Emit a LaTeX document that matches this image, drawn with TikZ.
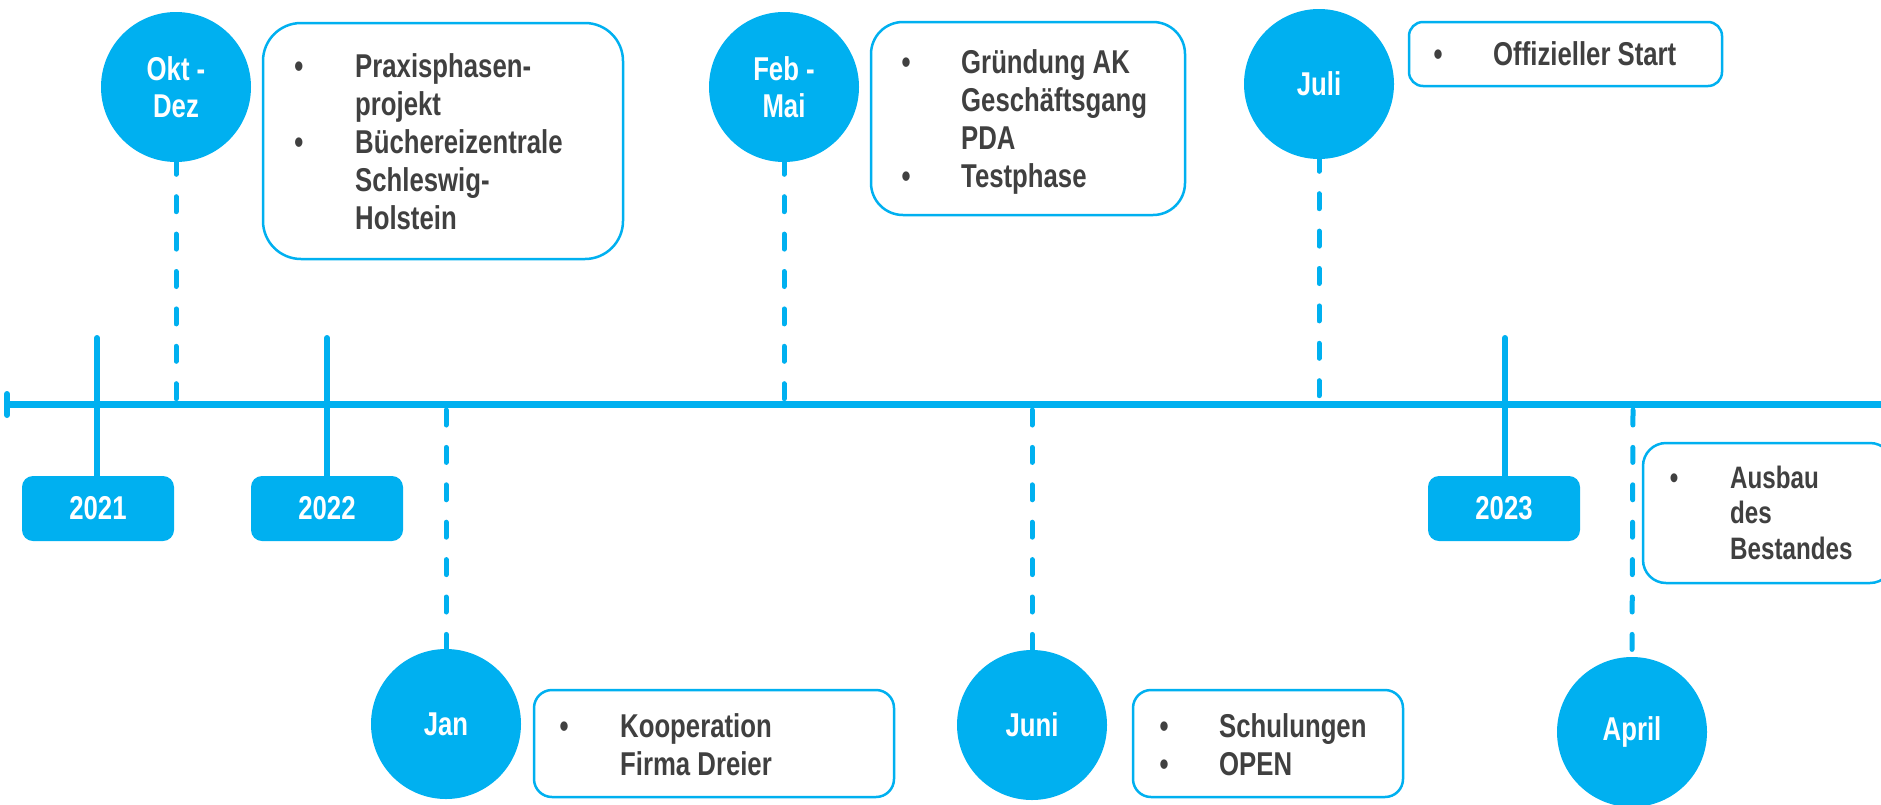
\documentclass[tikz,border=0pt]{standalone}
\usepackage{fontspec}
\newfontfamily\nb{Liberation Sans}[FakeStretch=0.78]
\definecolor{tlblue}{HTML}{00B0F0}
\definecolor{tlgray}{HTML}{404040}
\begin{document}
\begin{tikzpicture}[x=1pt,y=-1pt,
  axisline/.style={tlblue,line width=7pt},
  yeartick/.style={tlblue,line width=6pt,line cap=round},
  dashline/.style={tlblue,line width=5pt,line cap=round,dash pattern=on 15pt off 22.4pt},
  topdash/.style={dashline,dash phase=2.9pt},
  monthdot/.style={circle,fill=tlblue,minimum size=150pt,inner sep=0pt,text=white,align=center,
    font=\nb\bfseries\fontsize{33}{37}\selectfont},
  yearbox/.style={rectangle,rounded corners=11pt,fill=tlblue,minimum width=152pt,minimum height=65pt,
    inner sep=0pt,text=white,font=\nb\bfseries\fontsize{33}{38}\selectfont},
  infobox/.style={rectangle,draw=tlblue,line width=2.5pt,fill=white,inner sep=0pt},
  bul/.style={anchor=base,inner sep=0pt,text=tlgray,font=\nb\bfseries\fontsize{33}{38}\selectfont},
  itemtext/.style={anchor=base west,inner sep=0pt,text=tlgray,font=\nb\bfseries\fontsize{33}{38}\selectfont},
  smallbul/.style={bul,font=\nb\bfseries\fontsize{31}{36}\selectfont},
  smalltext/.style={itemtext,font=\nb\bfseries\fontsize{31}{36}\selectfont},
]
\useasboundingbox (0,0) rectangle (1881,804);
\fill[white] (0,0) rectangle (1881,804);

% axis
\coordinate (axL) at (7,404);
\coordinate (axR) at (1881,404);
\draw[axisline] (axL) -- (axR);
\coordinate (capT) at (7,394);
\coordinate (capB) at (7,415);
\draw[yeartick] (capT) -- (capB);

% year boxes and ticks
\node[yearbox] (y2021) at (98,508.5) {2021};
\node[yearbox] (y2022) at (327,508.5) {2022};
\node[yearbox] (y2023) at (1504,508.5) {2023};
\coordinate (t2021) at (97,338);
\coordinate (t2022) at (327,338);
\coordinate (t2023) at (1505,338);
\draw[yeartick] (t2021) -- (t2021 |- y2021.north);
\draw[yeartick] (t2022) -- (t2022 |- y2022.north);
\draw[yeartick] (t2023) -- (t2023 |- y2023.north);

% month circles
\node[monthdot] (cOkt) at (176,87) {Okt -\\Dez};
\node[monthdot] (cFeb) at (784,87) {Feb -\\Mai};
\node[monthdot] (cJuli) at (1319,84) {Juli};
\node[monthdot] (cJan) at (446,724) {Jan};
\node[monthdot] (cJuni) at (1032,725) {Juni};
\node[monthdot] (cApril) at (1632,732) {April};

% dashed connectors
\coordinate (aOkt) at (176,401);
\coordinate (aFeb) at (784,401);
\coordinate (aJuli) at (1319,401);
\coordinate (aJan) at (446,410);
\coordinate (aJuni) at (1032,410);
\coordinate (aApril) at (1633,410);
\draw[topdash] (cOkt.south) -- (aOkt);
\draw[topdash] (cFeb.south) -- (aFeb);
\draw[topdash] (cJuli.south) -- (aJuli);
\draw[dashline] (aJan) -- (cJan.north);
\draw[dashline] (aJuni) -- (cJuni.north);
\draw[dashline] (aApril) -- (cApril.north);

% info boxes
\node[infobox,rounded corners=38pt,minimum width=360pt,minimum height=236pt] (bPrax) at (443,141) {};
\node[infobox,rounded corners=32pt,minimum width=314pt,minimum height=193pt] (bGruend) at (1028,118.5) {};
\node[infobox,rounded corners=14pt,minimum width=313pt,minimum height=64pt] (bStart) at (1565.5,54) {};
\node[infobox,rounded corners=18pt,minimum width=360pt,minimum height=107pt] (bKoop) at (714,743.5) {};
\node[infobox,rounded corners=18pt,minimum width=270pt,minimum height=107pt] (bSchul) at (1268,743.5) {};
\node[infobox,rounded corners=23pt,minimum width=250pt,minimum height=140pt] (bAusbau) at (1768,513) {};

% texts: Praxis box
\node[bul] (p1b) at (299,77) {•};
\node[itemtext] (p1a) at (355,77) {Praxisphasen-};
\node[itemtext] (p1c) at (355,115) {projekt};
\node[bul] (p2b) at (299,153) {•};
\node[itemtext] (p2a) at (355,153) {Büchereizentrale};
\node[itemtext] (p2c) at (355,191) {Schleswig-};
\node[itemtext] (p2d) at (355,229) {Holstein};

% Gruendung box
\node[bul] (g1b) at (906,73) {•};
\node[itemtext] (g1a) at (961,73) {Gründung AK};
\node[itemtext] (g1c) at (961,111) {Geschäftsgang};
\node[itemtext] (g1d) at (961,149) {PDA};
\node[bul] (g2b) at (906,187) {•};
\node[itemtext] (g2a) at (961,187) {Testphase};

% Start box
\node[bul] (s1b) at (1438,65) {•};
\node[itemtext] (s1a) at (1493,65) {Offizieller Start};

% Kooperation box
\node[bul] (k1b) at (564,737) {•};
\node[itemtext] (k1a) at (620,737) {Kooperation};
\node[itemtext] (k1c) at (620,775) {Firma Dreier};

% Schulungen box
\node[bul] (u1b) at (1164,737) {•};
\node[itemtext] (u1a) at (1219,737) {Schulungen};
\node[bul] (u2b) at (1164,775) {•};
\node[itemtext] (u2a) at (1219,775) {OPEN};

% Ausbau box
\node[smallbul] (a1b) at (1674,488) {•};
\node[smalltext] (a1a) at (1730,488) {Ausbau};
\node[smalltext] (a1c) at (1730,523) {des};
\node[smalltext] (a1d) at (1730,559) {Bestandes};
\end{tikzpicture}
\end{document}
